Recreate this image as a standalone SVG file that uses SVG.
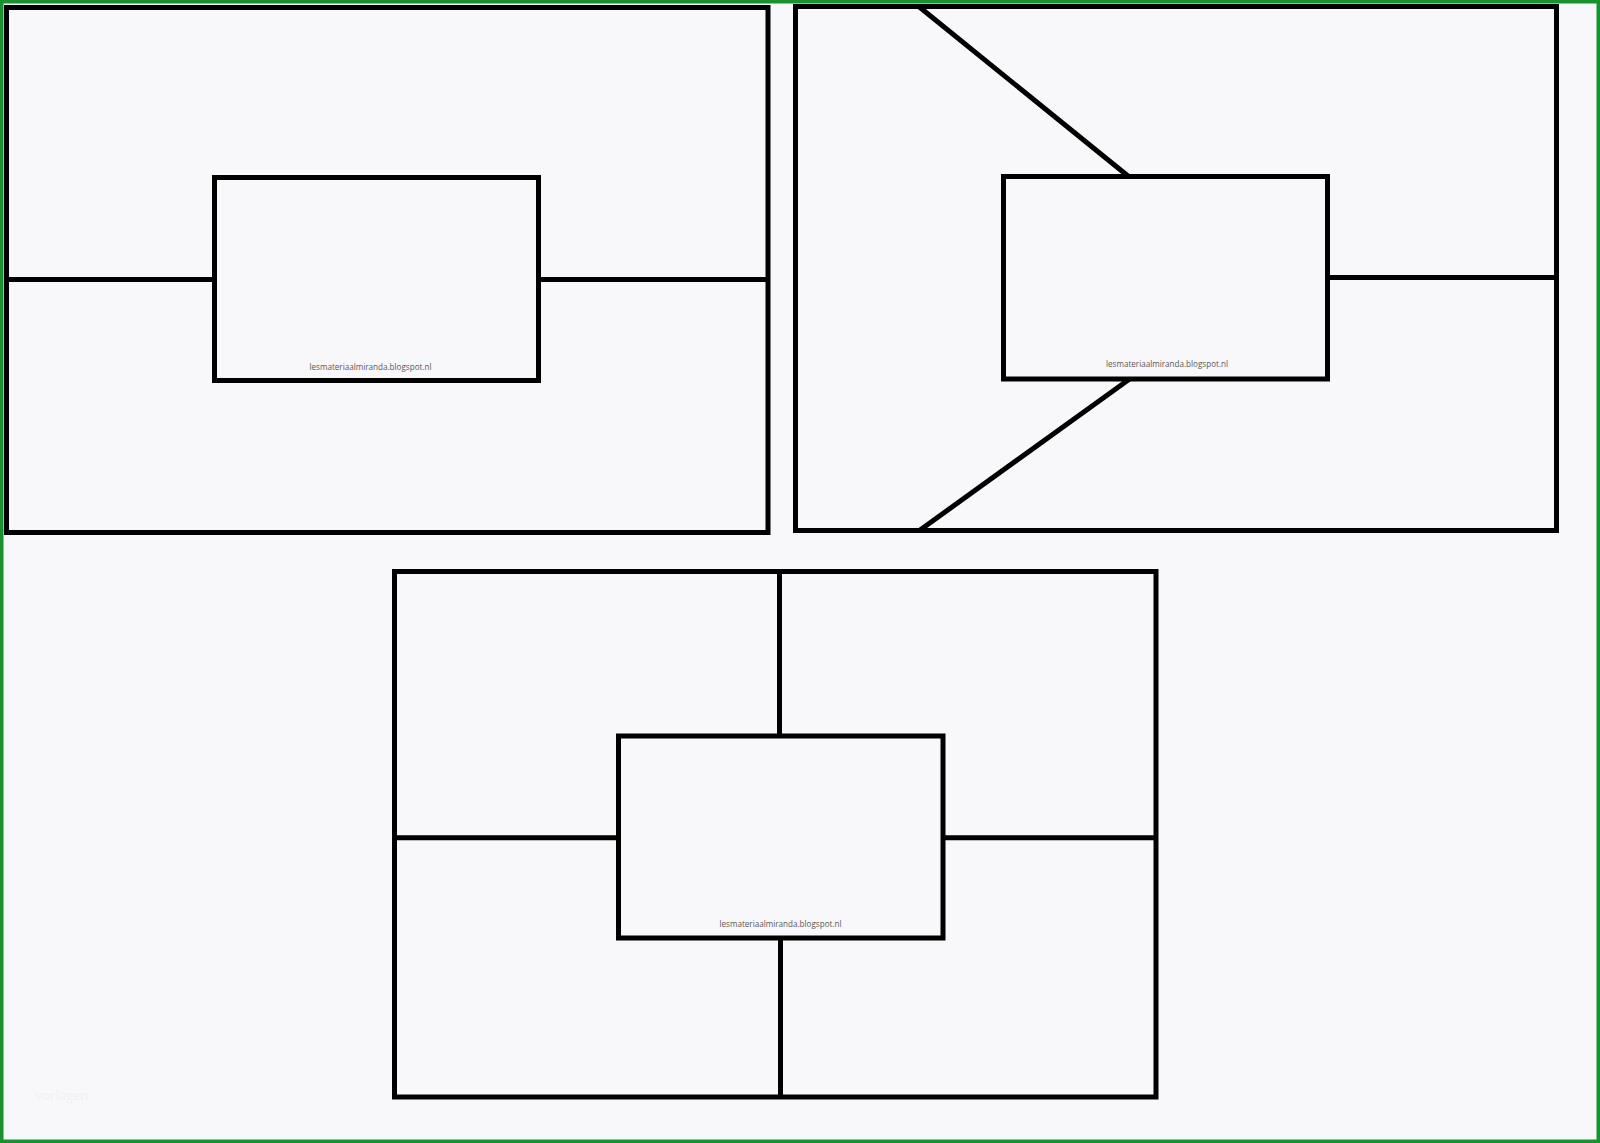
<svg xmlns="http://www.w3.org/2000/svg" width="1600" height="1143" viewBox="0 0 1600 1143">
<style>
.box{fill:none;stroke:#000;stroke-width:5}
.ln{stroke:#000;stroke-width:5;fill:none}
.wm{font-family:"Open Sans","Liberation Sans",sans-serif;font-size:8.1px;fill:#5a5a5a;text-anchor:middle}
</style>
<rect x="0" y="0" width="1600" height="1143" fill="#f8f7fa"/>
<rect x="1.75" y="1.75" width="1596.5" height="1139.5" fill="none" stroke="#17922e" stroke-width="3.5"/>
<text x="62" y="1100" font-family="Open Sans, Liberation Sans, sans-serif" font-size="13" fill="#f1eff3" text-anchor="middle">vorlagen</text>
<g id="panel1">
<rect class="box" x="6.5" y="7.5" width="761.5" height="525"/>
<rect class="box" x="214.5" y="177.5" width="324" height="203"/>
<text class="wm" x="370.5" y="370">lesmateriaalmiranda.blogspot.nl</text>
</g>
<g id="panel2">
<rect class="box" x="795.5" y="6.5" width="761" height="524"/>
<rect class="box" x="1003.5" y="176.5" width="324" height="202.5"/>
<text class="wm" x="1167" y="367">lesmateriaalmiranda.blogspot.nl</text>
</g>
<g id="panel3">
<rect class="box" x="394.5" y="571.5" width="761.5" height="525.5"/>
<rect class="box" x="618.5" y="736" width="324.5" height="202"/>
<text class="wm" x="780.5" y="927">lesmateriaalmiranda.blogspot.nl</text>
</g>
<g id="connectors">
<line class="ln" x1="6.5" y1="279.6" x2="214.5" y2="279.6"/>
<line class="ln" x1="538.5" y1="279.6" x2="768" y2="279.6"/>
<line class="ln" x1="919.4" y1="7" x2="1128.6" y2="176.5"/>
<line class="ln" x1="1129.6" y1="379" x2="919.4" y2="530.5"/>
<line class="ln" x1="1328" y1="277.5" x2="1556.5" y2="277.5"/>
<line class="ln" x1="779.5" y1="571.5" x2="779.5" y2="736"/>
<line class="ln" x1="780.5" y1="938" x2="780.5" y2="1097"/>
<line class="ln" x1="394.5" y1="837.7" x2="618.5" y2="837.7"/>
<line class="ln" x1="943" y1="837.7" x2="1156" y2="837.7"/>
</g>
</svg>
